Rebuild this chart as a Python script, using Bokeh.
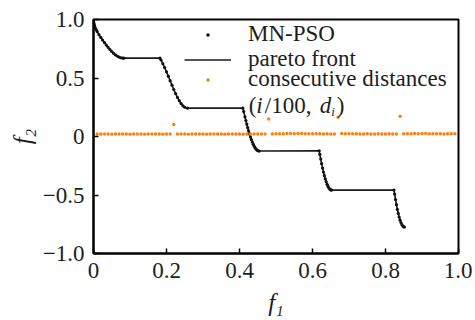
from bokeh.plotting import figure
from bokeh.models import (Range1d, FixedTicker, CustomJSTickFormatter, Label,
                          Legend, LegendItem)
from bokeh.embed import file_html
from bokeh.resources import INLINE

# ---------------- data ----------------
# pareto front (ZDT3-like), drawn through all segments in order
front_f1 = [0.0, 0.001, 0.002, 0.003, 0.005, 0.0075, 0.01, 0.015, 0.02, 0.025, 0.03,
            0.035, 0.04, 0.045, 0.05, 0.055, 0.06, 0.065, 0.07, 0.075, 0.08, 0.083,
            0.1822, 0.185, 0.19, 0.195, 0.20, 0.205, 0.21, 0.215, 0.22, 0.225, 0.23,
            0.235, 0.24, 0.245, 0.25, 0.2577,
            0.4093, 0.4115, 0.415, 0.4175, 0.42, 0.4225, 0.425, 0.4275, 0.43, 0.4325,
            0.435, 0.4375, 0.44, 0.4425, 0.445, 0.4475, 0.45, 0.4538,
            0.6183, 0.62, 0.6225, 0.625, 0.6275, 0.63, 0.6325, 0.635, 0.6375, 0.64,
            0.6425, 0.645, 0.6475, 0.65, 0.6525,
            0.8233, 0.825, 0.8275, 0.83, 0.8325, 0.835, 0.8375, 0.84, 0.8425, 0.845,
            0.8475, 0.85, 0.8518]
front_f2 = [1.0, 0.9684, 0.9552, 0.9449, 0.9285, 0.9117, 0.8969, 0.8707, 0.8468, 0.8242, 0.8025,
            0.7817, 0.7620, 0.7434, 0.7264, 0.7112, 0.6980, 0.6871, 0.6788, 0.6731, 0.6702, 0.6697,
            0.6698, 0.6539, 0.6228, 0.5889, 0.5528, 0.5152, 0.4768, 0.4387, 0.4017, 0.3666, 0.3343,
            0.3058, 0.2818, 0.2629, 0.2500, 0.2421,
            0.2423, 0.2131, 0.1674, 0.1358, 0.1050, 0.0756, 0.0476, 0.0211, -0.0036, -0.0264,
            -0.0471, -0.0656, -0.0818, -0.0955, -0.1066, -0.1151, -0.1208, -0.1242,
            -0.1226, -0.1518, -0.1933, -0.2325, -0.2693, -0.3034, -0.3346, -0.3627, -0.3874, -0.4087,
            -0.4263, -0.4402, -0.4502, -0.4562, -0.4583,
            -0.4578, -0.4917, -0.5389, -0.5825, -0.6222, -0.6578, -0.6889, -0.7154, -0.7371, -0.7538,
            -0.7655, -0.7720, -0.7733]

# MN-PSO solutions (lie on the front segments)
pso_f1 = list(front_f1)
pso_f2 = list(front_f2)

# consecutive distances d_i plotted at i/100, i = 1..99
dist_i = list(range(1, 100))
dist_d = [0.021, 0.021, 0.022, 0.021, 0.020, 0.021, 0.022, 0.021, 0.021, 0.020,
          0.021, 0.022, 0.021, 0.020, 0.021, 0.022, 0.021, 0.021, 0.020, 0.021,
          0.021, 0.102, 0.021, 0.022, 0.021, 0.020, 0.021, 0.022, 0.021, 0.021,
          0.020, 0.021, 0.022, 0.021, 0.021, 0.020, 0.021, 0.022, 0.021, 0.021,
          0.020, 0.021, 0.022, 0.021, 0.021, 0.022, 0.021, 0.150, 0.022, 0.023,
          0.023, 0.024, 0.025, 0.025, 0.024, 0.026, 0.025, 0.024, 0.023, 0.024,
          0.023, 0.023, 0.022, 0.023, 0.022, 0.022, 0.164, 0.025, 0.024, 0.024,
          0.023, 0.023, 0.022, 0.022, 0.023, 0.022, 0.022, 0.023, 0.022, 0.022,
          0.023, 0.022, 0.022, 0.173, 0.023, 0.024, 0.024, 0.025, 0.024, 0.026,
          0.025, 0.024, 0.024, 0.023, 0.023, 0.022, 0.023, 0.023, 0.023]

x_ticks = [0.0, 0.2, 0.4, 0.6, 0.8, 1.0]
x_tick_labels = ["0", "0.2", "0.4", "0.6", "0.8", "1.0"]
y_ticks = [-1.0, -0.5, 0.0, 0.5, 1.0]
y_tick_labels = ["\u22121.0", "\u22120.5", "0", "0.5", "1.0"]

legend_labels = ["MN-PSO", "pareto front", "consecutive distances"]
x_title = "f\u2081"
y_title = "f\u2082"

# ---------------- figure ----------------
SERIF = "Liberation Serif"
ORANGE = "#ff7f0e"
TXT = "#1e1e1e"

p = figure(width=472, height=318, output_backend="svg", toolbar_location=None,
           x_range=Range1d(0, 1), y_range=Range1d(-1, 1),
           min_border_left=93, min_border_right=14, min_border_top=19, min_border_bottom=61)
p.background_fill_color = "white"
p.border_fill_color = "white"
p.grid.visible = False
p.outline_line_color = "black"
p.outline_line_width = 2

fmt_code = """
const i = tvals.findIndex(t => Math.abs(t - tick) < 1e-9);
return i >= 0 ? tlabels[i] : '';
"""
p.xaxis.ticker = FixedTicker(ticks=x_ticks)
p.yaxis.ticker = FixedTicker(ticks=y_ticks)
p.xaxis.formatter = CustomJSTickFormatter(args=dict(tvals=x_ticks, tlabels=x_tick_labels), code=fmt_code)
p.yaxis.formatter = CustomJSTickFormatter(args=dict(tvals=y_ticks, tlabels=y_tick_labels), code=fmt_code)
for ax in (p.xaxis[0], p.yaxis[0]):
    ax.axis_line_width = 2
    ax.axis_line_color = "black"
    ax.major_tick_in = 5
    ax.major_tick_out = 0
    ax.major_tick_line_width = 1.5
    ax.major_tick_line_color = "black"
    ax.minor_tick_line_color = None
    ax.major_label_text_font = SERIF
    ax.major_label_text_font_size = "23px"
    ax.major_label_text_color = TXT
    ax.major_label_standoff = 9
    ax.axis_label_text_font = SERIF
    ax.axis_label_text_font_style = "italic"
    ax.axis_label_text_font_size = "25px"
    ax.axis_label_text_color = TXT
    ax.axis_label_standoff = 8
p.xaxis.axis_label = x_title
p.yaxis.axis_label = y_title
p.yaxis.axis_label_standoff = 4

# glyphs
r_line = p.line(front_f1, front_f2, line_color="#1a1a1a", line_width=1.6)
r_pso = p.scatter(pso_f1, pso_f2, size=3.2, color="#111111", line_width=0)
r_dist = p.scatter([i / 100 for i in dist_i], dist_d, size=3.4, color=ORANGE, line_width=0)

# one single-row legend per entry, so that rows sit where the reference has them
row_h = 28
row_centres = [18, 43, 63]          # px below the frame top
glyph_heights = [9, 21, 9]          # small box -> small legend dot
for lab, rend, yc, gh in zip(legend_labels, [r_pso, r_line, r_dist], row_centres, glyph_heights):
    lg = Legend(items=[LegendItem(label=lab, renderers=[rend])],
                location=(91, 238 - yc - row_h / 2), orientation="vertical",
                border_line_alpha=0, background_fill_alpha=0,
                padding=0, margin=0, spacing=0,
                glyph_width=47, glyph_height=gh, label_height=21, label_standoff=17,
                label_text_font=SERIF, label_text_font_size="23px",
                label_text_color=TXT)
    p.add_layout(lg, "center")

# fourth legend line: (i/100, d_i)
lx, ly = 0.4255, 0.268
parts = [("(", "normal", 23, 0, 0), ("i", "italic", 23, 7.5, 0), ("/100,", "normal", 23, 16, 0),
         ("d", "italic", 23, 71, 0), ("i", "italic", 13, 82.5, -6), (")", "normal", 23, 88, 0)]
for txt, style, size, dx, dy in parts:
    p.add_layout(Label(x=lx, y=ly, x_offset=dx, y_offset=dy, text=txt, text_font=SERIF,
                       text_font_style=style, text_font_size=f"{size}px",
                       text_baseline="middle", text_align="left", text_color=TXT))

open("out.html", "w").write(file_html(p, INLINE))
